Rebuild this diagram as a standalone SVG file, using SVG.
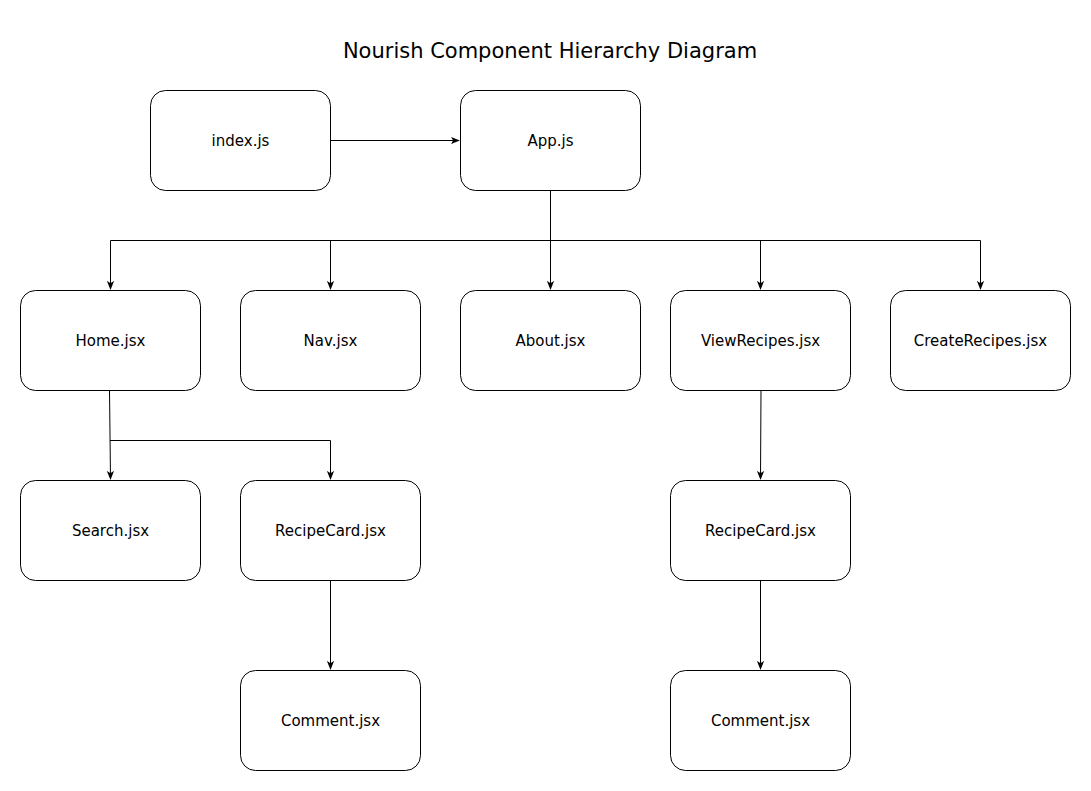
<svg xmlns="http://www.w3.org/2000/svg" width="1091" height="791" viewBox="0 0 1091 791">
<defs>
<style>
.node rect{fill:#fff;stroke:#000;stroke-width:1}
.node text{font-family:"DejaVu Sans",Verdana,sans-serif;font-size:15px;fill:#000;text-anchor:middle}
.title{font-family:"DejaVu Sans",Verdana,sans-serif;font-size:21px;fill:#000;text-anchor:middle}
#connectors path{fill:none;stroke:#000;stroke-width:1}
</style>
<marker id="arrow" viewBox="0 0 10 10" refX="9" refY="5" markerWidth="9" markerHeight="9" markerUnits="userSpaceOnUse" orient="auto">
<path d="M0,1 L10,5 L0,9 L2.5,5 Z" fill="#000" stroke="none"/>
</marker>
</defs>
<rect width="1091" height="791" fill="#fff"/>
<text class="title" x="550" y="58">Nourish Component Hierarchy Diagram</text>
<g id="connectors">
<path d="M330.5,140.5 H459" marker-end="url(#arrow)"/>
<path d="M550.5,190 V240.5"/>
<path d="M110.5,240.5 H980.5"/>
<path d="M110.5,240.5 V289" marker-end="url(#arrow)"/>
<path d="M330.5,240.5 V289" marker-end="url(#arrow)"/>
<path d="M550.5,240.5 V289" marker-end="url(#arrow)"/>
<path d="M760.5,240.5 V289" marker-end="url(#arrow)"/>
<path d="M980.5,240.5 V289" marker-end="url(#arrow)"/>
<path d="M109.5,390 L110.5,479" marker-end="url(#arrow)"/>
<path d="M110,440.5 H330.5 V479" marker-end="url(#arrow)"/>
<path d="M330.5,580 V669" marker-end="url(#arrow)"/>
<path d="M761,390 L760.5,479" marker-end="url(#arrow)"/>
<path d="M760.5,580 V669" marker-end="url(#arrow)"/>
</g>
<g id="index" class="node"><rect x="150.5" y="90.5" width="180" height="100" rx="15"/><text x="240.5" y="146">index.js</text></g>
<g id="app" class="node"><rect x="460.5" y="90.5" width="180" height="100" rx="15"/><text x="550.5" y="146">App.js</text></g>
<g id="home" class="node"><rect x="20.5" y="290.5" width="180" height="100" rx="15"/><text x="110.5" y="346">Home.jsx</text></g>
<g id="nav" class="node"><rect x="240.5" y="290.5" width="180" height="100" rx="15"/><text x="330.5" y="346">Nav.jsx</text></g>
<g id="about" class="node"><rect x="460.5" y="290.5" width="180" height="100" rx="15"/><text x="550.5" y="346">About.jsx</text></g>
<g id="viewrecipes" class="node"><rect x="670.5" y="290.5" width="180" height="100" rx="15"/><text x="760.5" y="346">ViewRecipes.jsx</text></g>
<g id="createrecipes" class="node"><rect x="890.5" y="290.5" width="180" height="100" rx="15"/><text x="980.5" y="346">CreateRecipes.jsx</text></g>
<g id="search" class="node"><rect x="20.5" y="480.5" width="180" height="100" rx="15"/><text x="110.5" y="536">Search.jsx</text></g>
<g id="recipecard1" class="node"><rect x="240.5" y="480.5" width="180" height="100" rx="15"/><text x="330.5" y="536">RecipeCard.jsx</text></g>
<g id="recipecard2" class="node"><rect x="670.5" y="480.5" width="180" height="100" rx="15"/><text x="760.5" y="536">RecipeCard.jsx</text></g>
<g id="comment1" class="node"><rect x="240.5" y="670.5" width="180" height="100" rx="15"/><text x="330.5" y="726">Comment.jsx</text></g>
<g id="comment2" class="node"><rect x="670.5" y="670.5" width="180" height="100" rx="15"/><text x="760.5" y="726">Comment.jsx</text></g>
</svg>
